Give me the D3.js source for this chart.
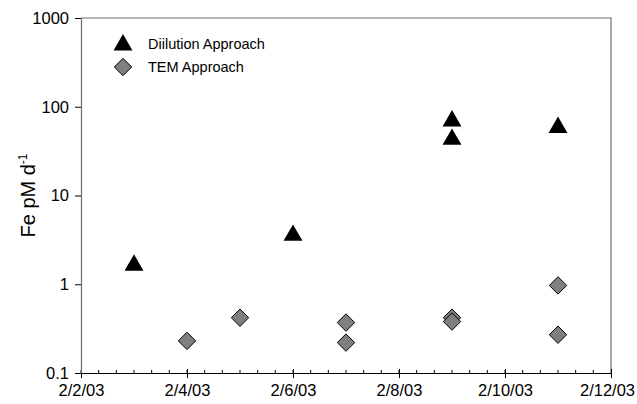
<!DOCTYPE html>
<html>
<head>
<meta charset="utf-8">
<script src="https://cdn.jsdelivr.net/npm/d3@7"></script>
<style>
  body { margin: 0; background: #fff; }
</style>
</head>
<body>
<div id="chart"></div>
<script>
// Dilution approach (triangles)
const dilutionDates = ["2003-02-03", "2003-02-06", "2003-02-09", "2003-02-09", "2003-02-11"];
const dilutionValues = [1.68, 3.65, 71, 44, 60];

// TEM approach (diamonds)
const temDates = ["2003-02-04", "2003-02-05", "2003-02-07", "2003-02-07", "2003-02-09", "2003-02-09", "2003-02-11", "2003-02-11"];
const temValues = [0.23, 0.42, 0.37, 0.22, 0.42, 0.38, 0.97, 0.27];

const xTickDates = ["2003-02-02", "2003-02-04", "2003-02-06", "2003-02-08", "2003-02-10", "2003-02-12"];
const xTickLabels = ["2/2/03", "2/4/03", "2/6/03", "2/8/03", "2/10/03", "2/12/03"];
const yTickValues = [0.1, 1, 10, 100, 1000];
const seriesNames = ["Diilution Approach", "TEM Approach"];

const FONT = "'Liberation Sans', Arial, sans-serif";
const width = 637, height = 404;
const margin = {top: 18, right: 26, bottom: 31, left: 81};
const parse = d3.timeParse("%Y-%m-%d");

const svg = d3.select("#chart").append("svg")
    .attr("width", width)
    .attr("height", height)
    .attr("font-family", FONT);

const x = d3.scaleTime()
    .domain([parse(xTickDates[0]), parse(xTickDates[xTickDates.length - 1])])
    .range([margin.left, width - margin.right]);

const y = d3.scaleLog()
    .domain([0.1, 1000])
    .range([height - margin.bottom, margin.top]);

const xMajor = xTickDates.map(parse);
const xMinor = d3.timeHour.range(x.domain()[0], x.domain()[1], 8);

// frame (top and right)
svg.append("path")
    .attr("d", `M${x.range()[0]},${y.range()[1]}H${x.range()[1]}V${y.range()[0]}`)
    .attr("fill", "none")
    .attr("stroke", "#6e6e6e")
    .attr("stroke-width", 1.2);

// minor x ticks (upward)
svg.append("g")
    .selectAll("line")
    .data(xMinor)
    .enter().append("line")
    .attr("x1", d => x(d)).attr("x2", d => x(d))
    .attr("y1", y.range()[0]).attr("y2", y.range()[0] - 3)
    .attr("stroke", "#000");

// x axis
const xAxis = svg.append("g")
    .attr("transform", `translate(0,${y.range()[0]})`)
    .call(d3.axisBottom(x).tickValues(xMajor).tickSize(5).tickSizeOuter(0)
        .tickFormat((d, i) => xTickLabels[i]));
xAxis.attr("font-family", FONT).attr("font-size", 16.5);
xAxis.select(".domain").attr("stroke", "#000");
xAxis.selectAll(".tick line").attr("y1", -4);
xAxis.selectAll("text").attr("fill", "#000").attr("y", 9).attr("dy", "0.85em")
    .attr("x", (d, i) => i === xTickLabels.length - 1 ? -4 : 0);

// y axis
const yAxis = svg.append("g")
    .attr("transform", `translate(${x.range()[0]},0)`)
    .call(d3.axisLeft(y).tickValues(yTickValues).tickSize(6).tickSizeOuter(0)
        .tickFormat(d => d3.format("~g")(d)));
yAxis.attr("font-family", FONT).attr("font-size", 16.5);
yAxis.select(".domain").attr("stroke", "#6e6e6e").attr("stroke-width", 1.2);
yAxis.selectAll("text").attr("fill", "#000").attr("x", -12);

// y label
const yl = svg.append("text")
    .attr("transform", `translate(35,${(y.range()[0] + y.range()[1]) / 2}) rotate(-90)`)
    .attr("text-anchor", "middle")
    .attr("font-size", 20)
    .attr("fill", "#000");
yl.append("tspan").text("Fe pM d");
yl.append("tspan").attr("dy", -8).attr("font-size", 12).text("-1");

const tri = d3.symbol().type(d3.symbolTriangle).size(155);
const dia = (cx, cy, r) => `M${cx},${cy - r}L${cx + r},${cy}L${cx},${cy + r}L${cx - r},${cy}Z`;

// TEM diamonds
svg.append("g")
    .selectAll("path")
    .data(temDates.map((d, i) => ({date: parse(d), v: temValues[i]})))
    .enter().append("path")
    .attr("d", d => dia(x(d.date), y(d.v), 8.7))
    .attr("fill", "#7f7f7f")
    .attr("stroke", "#000")
    .attr("stroke-width", 1);

// dilution triangles
svg.append("g")
    .selectAll("path")
    .data(dilutionDates.map((d, i) => ({date: parse(d), v: dilutionValues[i]})))
    .enter().append("path")
    .attr("transform", d => `translate(${x(d.date)},${y(d.v) + 1})`)
    .attr("d", tri)
    .attr("fill", "#000");

// legend
const lg = svg.append("g").attr("transform", "translate(123,0)");
lg.append("path").attr("transform", "translate(0,45)").attr("d", tri).attr("fill", "#000");
lg.append("path").attr("d", dia(0, 67, 8.7)).attr("fill", "#7f7f7f").attr("stroke", "#000");
lg.append("text").attr("x", 25).attr("y", 49).attr("font-size", 14.5).text(seriesNames[0]);
lg.append("text").attr("x", 25).attr("y", 72).attr("font-size", 14.5).text(seriesNames[1]);
</script>
</body>
</html>
